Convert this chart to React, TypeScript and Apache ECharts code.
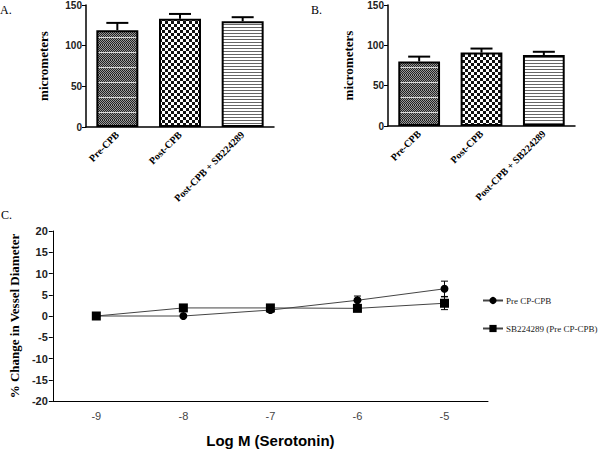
import React, { useEffect, useRef } from "react";
import * as echarts from "echarts";

const barCategories = ["Pre-CPB", "Post-CPB", "Post-CPB + SB224289"];
const panelAMeans = [119, 133, 130];
const panelAErrors = [9, 6, 5];
const panelBMeans = [80, 91, 88];
const panelBErrors = [6, 5, 4];

const doseLabels = ["-9", "-8", "-7", "-6", "-5"];
const preSeriesName = "Pre CP-CPB";
const preValues = [0, 0, 1.4, 3.7, 6.4];
const preErrors = [0, 0, 0.5, 1.0, 1.8];
const sbSeriesName = "SB224289 (Pre CP-CPB)";
const sbValues = [0, 1.9, 1.9, 1.8, 3.0];
const sbErrors = [0, 0, 0, 0.4, 1.5];

function makePattern(kind: number): HTMLCanvasElement {
  const c = document.createElement("canvas");
  if (kind === 0) {
    c.width = 4;
    c.height = 15;
    const ctx = c.getContext("2d")!;
    for (let y = 0; y < 15; y++) {
      for (let x = 0; x < 4; x++) {
        ctx.fillStyle = (x + y) % 2 === 0 ? "#222222" : "#9a9a9a";
        ctx.fillRect(x, y, 1, 1);
      }
    }
    ctx.fillStyle = "#d8d8d8";
    ctx.fillRect(0, 7, 4, 1);
  } else if (kind === 1) {
    c.width = 6;
    c.height = 6;
    const ctx = c.getContext("2d")!;
    ctx.fillStyle = "#ffffff";
    ctx.fillRect(0, 0, 6, 6);
    ctx.fillStyle = "#111111";
    ctx.fillRect(0, 0, 3, 3);
    ctx.fillRect(3, 3, 3, 3);
  } else {
    c.width = 4;
    c.height = 3;
    const ctx = c.getContext("2d")!;
    ctx.fillStyle = "#ffffff";
    ctx.fillRect(0, 0, 4, 3);
    ctx.fillStyle = "#666666";
    ctx.fillRect(0, 0, 4, 1);
  }
  return c;
}

export default function App() {
  const ref = useRef<HTMLDivElement>(null);
  useEffect(() => {
    if (!ref.current) return;
    const chart = echarts.init(ref.current, undefined, { renderer: "svg" });
    const patterns = [0, 1, 2].map((k) => ({ image: makePattern(k), repeat: "repeat" }));

    const barAxisLabel = {
      rotate: 45,
      fontFamily: "Liberation Serif",
      fontWeight: "bold",
      fontSize: 10,
      color: "#000",
      margin: 6,
      interval: 0,
    };
    const valueLabel = {
      fontFamily: "Liberation Sans",
      fontWeight: "bold",
      fontSize: 10,
      color: "#222",
      margin: 4,
    };
    const axisLine = { show: true, lineStyle: { color: "#000", width: 1.5 } };

    const barData = (means: number[]) =>
      means.map((v, i) => ({
        value: v,
        itemStyle: { color: patterns[i], borderColor: "#000", borderWidth: 2 },
      }));

    const barErr = (means: number[], errs: number[]) => means.map((v, i) => [i, v, errs[i]]);
    const upErrRender = (params: any, api: any) => {
      const x = api.value(0);
      const y = api.value(1);
      const e = api.value(2);
      const base = api.coord([x, y]);
      const top = api.coord([x, y + e]);
      const half = 11;
      return {
        type: "group",
        children: [
          { type: "line", shape: { x1: base[0], y1: base[1], x2: top[0], y2: top[1] }, style: { stroke: "#000", lineWidth: 2 } },
          { type: "line", shape: { x1: top[0] - half, y1: top[1], x2: top[0] + half, y2: top[1] }, style: { stroke: "#000", lineWidth: 2 } },
        ],
      };
    };
    const bothErrRender = (params: any, api: any) => {
      const x = api.value(0);
      const y = api.value(1);
      const e = api.value(2);
      if (!e) return { type: "group", children: [] };
      const top = api.coord([x, y + e]);
      const bot = api.coord([x, y - e]);
      const half = 3.5;
      return {
        type: "group",
        children: [
          { type: "line", shape: { x1: top[0], y1: top[1], x2: bot[0], y2: bot[1] }, style: { stroke: "#000", lineWidth: 1 } },
          { type: "line", shape: { x1: top[0] - half, y1: top[1], x2: top[0] + half, y2: top[1] }, style: { stroke: "#000", lineWidth: 1 } },
          { type: "line", shape: { x1: bot[0] - half, y1: bot[1], x2: bot[0] + half, y2: bot[1] }, style: { stroke: "#000", lineWidth: 1 } },
        ],
      };
    };

    const option: any = {
      animation: false,
      backgroundColor: "#fff",
      grid: [
        { left: 86, top: 4, width: 188, height: 123 },
        { left: 388, top: 4, width: 187, height: 122 },
        { left: 48, top: 231, width: 440, height: 174 },
      ],
      xAxis: [
        {
          type: "category", gridIndex: 0, data: barCategories,
          axisLine, axisTick: { alignWithLabel: true, length: 4, lineStyle: { color: "#000" } },
          axisLabel: barAxisLabel,
        },
        {
          type: "category", gridIndex: 1, data: barCategories,
          axisLine, axisTick: { alignWithLabel: true, length: 4, lineStyle: { color: "#000" } },
          axisLabel: barAxisLabel,
        },
        {
          type: "category", gridIndex: 2, data: doseLabels,
          axisLine: { show: true, onZero: false, lineStyle: { color: "#000", width: 1 } },
          axisTick: { length: 4, lineStyle: { color: "#000" } },
          axisLabel: { fontFamily: "Liberation Sans", fontSize: 11, color: "#444", margin: 9 },
          name: "Log M (Serotonin)", nameLocation: "middle", nameGap: 32,
          nameTextStyle: { fontFamily: "Liberation Sans", fontWeight: "bold", fontSize: 15, color: "#000" },
        },
      ],
      yAxis: [
        {
          type: "value", gridIndex: 0, min: 0, max: 150, interval: 50,
          axisLine, axisTick: { show: true, length: 4, lineStyle: { color: "#000" } },
          splitLine: { show: false }, axisLabel: valueLabel,
          name: "micrometers", nameLocation: "middle", nameGap: 36,
          nameTextStyle: { fontFamily: "Liberation Serif", fontWeight: "bold", fontSize: 13, color: "#000" },
        },
        {
          type: "value", gridIndex: 1, min: 0, max: 150, interval: 50,
          axisLine, axisTick: { show: true, length: 4, lineStyle: { color: "#000" } },
          splitLine: { show: false }, axisLabel: valueLabel,
          name: "micrometers", nameLocation: "middle", nameGap: 33,
          nameTextStyle: { fontFamily: "Liberation Serif", fontWeight: "bold", fontSize: 13, color: "#000" },
        },
        {
          type: "value", gridIndex: 2, min: -20, max: 20, interval: 5,
          axisLine: { show: true, lineStyle: { color: "#000", width: 1 } },
          axisTick: { show: true, length: 4, lineStyle: { color: "#000" } },
          splitLine: { show: false },
          axisLabel: { fontFamily: "Liberation Sans", fontWeight: "bold", fontSize: 11, color: "#222", margin: 5 },
          name: "% Change in Vessel Diameter", nameLocation: "middle", nameGap: 30,
          nameTextStyle: { fontFamily: "Liberation Serif", fontWeight: "bold", fontSize: 13, color: "#000" },
        },
      ],
      legend: {
        orient: "vertical", left: 477, top: 291, itemWidth: 20, itemHeight: 9, itemGap: 19,
        data: [preSeriesName, sbSeriesName],
        textStyle: { fontFamily: "Liberation Serif", fontSize: 9, color: "#222", padding: [0, 0, 0, -2] },
      },
      series: [
        { type: "bar", xAxisIndex: 0, yAxisIndex: 0, data: barData(panelAMeans), barCategoryGap: "33%" },
        { type: "custom", xAxisIndex: 0, yAxisIndex: 0, data: barErr(panelAMeans, panelAErrors), renderItem: upErrRender, z: 1 },
        { type: "bar", xAxisIndex: 1, yAxisIndex: 1, data: barData(panelBMeans), barCategoryGap: "33%" },
        { type: "custom", xAxisIndex: 1, yAxisIndex: 1, data: barErr(panelBMeans, panelBErrors), renderItem: upErrRender, z: 1 },
        {
          type: "line", name: preSeriesName, xAxisIndex: 2, yAxisIndex: 2, data: preValues,
          symbol: "circle", symbolSize: 8, itemStyle: { color: "#000" }, lineStyle: { color: "#444", width: 1 }, z: 3,
        },
        {
          type: "line", name: sbSeriesName, xAxisIndex: 2, yAxisIndex: 2, data: sbValues,
          symbol: "rect", symbolSize: 9, itemStyle: { color: "#000" }, lineStyle: { color: "#444", width: 1 }, z: 3,
        },
        { type: "custom", xAxisIndex: 2, yAxisIndex: 2, data: preValues.map((v, i) => [i, v, preErrors[i]]), renderItem: bothErrRender, z: 2 },
        { type: "custom", xAxisIndex: 2, yAxisIndex: 2, data: sbValues.map((v, i) => [i, v, sbErrors[i]]), renderItem: bothErrRender, z: 2 },
      ],
      graphic: [
        { type: "text", left: 0, top: 4, style: { text: "A.", font: "12px 'Liberation Serif'", fill: "#000" } },
        { type: "text", left: 311, top: 4, style: { text: "B.", font: "12px 'Liberation Serif'", fill: "#000" } },
        { type: "text", left: 1, top: 209, style: { text: "C.", font: "12px 'Liberation Serif'", fill: "#000" } },
      ],
    };
    chart.setOption(option);
    return () => chart.dispose();
  }, []);
  return <div ref={ref} style={{ position: "fixed", left: 0, top: 0, width: 600, height: 449 }} />;
}
